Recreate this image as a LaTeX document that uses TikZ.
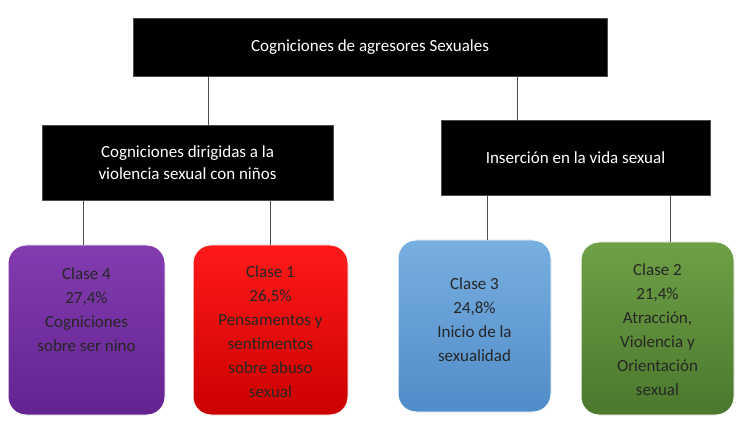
\documentclass[tikz,border=0pt]{standalone}
\usepackage{fontspec}
\setmainfont{Carlito}
\begin{document}
\begin{tikzpicture}[x=1pt,y=-1pt,
 hdr/.style={draw=black!70,fill=black,text=white,font=\fontsize{17}{22}\selectfont,align=center,inner sep=0pt},
 shp/.style={rounded corners=18pt,draw=white,line width=1pt},
 txt/.style={text=black!85,font=\fontsize{17}{24}\selectfont,align=center,inner sep=0pt},
 con/.style={draw=black!70,line width=0.8pt}]
\useasboundingbox (0,0) rectangle (741,435);
\node[hdr,minimum width=474pt,minimum height=58pt] (top) at (370,47) {Cogniciones de agresores Sexuales};
\node[hdr,minimum width=291pt,minimum height=75pt] (l) at (187.5,162.5) {Cogniciones dirigidas a la\\violencia sexual con niños};
\node[hdr,minimum width=269pt,minimum height=75pt] (r) at (575.5,157.5) {Inserción en la vida sexual};
\fill[shp,top color={rgb,255:red,130;green,60;blue,175},bottom color={rgb,255:red,100;green,35;blue,145}] (8,245) rectangle (165,415);
\node[txt] (c4) at (86.5,310) {Clase 4\\27,4\%\\Cogniciones\\sobre ser nino};
\fill[shp,top color=red!90!white,bottom color=red!80!black] (193,245) rectangle (348,415);
\node[txt] (c1) at (270.5,332) {Clase 1\\26,5\%\\Pensamentos y\\sentimentos\\sobre abuso\\sexual};
\fill[shp,top color={rgb,255:red,120;green,175;blue,225},bottom color={rgb,255:red,80;green,140;blue,200}] (398,240) rectangle (551,412);
\node[txt] (c3) at (474.5,320) {Clase 3\\24,8\%\\Inicio de la\\sexualidad};
\fill[shp,top color={rgb,255:red,110;green,160;blue,70},bottom color={rgb,255:red,75;green,120;blue,45}] (581,242) rectangle (734,415);
\node[txt] (c2) at (657.5,330) {Clase 2\\21,4\%\\Atracción,\\Violencia y\\Orientación\\sexual};
\coordinate (a1) at (208,76); \coordinate (a2) at (208,125);
\coordinate (b1) at (517,76); \coordinate (b2) at (517,120);
\draw[con] (a1) -- (a2); \draw[con] (b1) -- (b2);
\draw[con] (83,200) -- (83,245); \draw[con] (270,200) -- (270,245);
\draw[con] (487,195) -- (487,240); \draw[con] (670,195) -- (670,242);
\end{tikzpicture}
\end{document}
